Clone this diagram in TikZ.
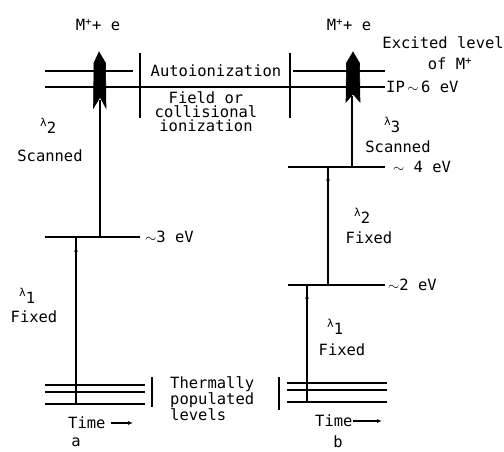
\documentclass[tikz,border=0pt]{standalone}
\usepackage{fontspec}
\setmonofont{DejaVu Sans Mono}
\usetikzlibrary{arrows.meta}
\newcommand{\lamb}[1]{{\fontsize{11}{11}\selectfont λ}\raisebox{-0.42em}{#1}}
\begin{document}
\begin{tikzpicture}[x=1pt,y=-1pt,
  lvl/.style={line width=1.2pt},
  trans/.style={line width=1.1pt},
  bar/.style={line width=1.1pt},
  lab/.style={font=\ttfamily\fontsize{15.5}{14}\selectfont, inner sep=0pt},
  headup/.style={line width=1.1pt,-{Stealth[length=6pt,width=3.5pt]}},
  timearr/.style={line width=1.1pt,-{Latex[length=5pt,width=4pt]}},
  big/.style={fill=black,draw=black,line width=0.6pt}]
\useasboundingbox (0,0) rectangle (504,451);
% ---- coordinates (levels) ----
\coordinate (aTopL) at (45,71);   \coordinate (aTopR) at (133,71);
\coordinate (ipL) at (45,87);     \coordinate (ipR) at (385,87);
\coordinate (bTopL) at (293,71);  \coordinate (bTopR) at (385,71);
\coordinate (a3L) at (45,237);    \coordinate (a3R) at (140,237);
\coordinate (aT1L) at (45,385);   \coordinate (aT1R) at (145,385);
\coordinate (aT2L) at (45,392);   \coordinate (aT2R) at (145,392);
\coordinate (aT3L) at (45,404);   \coordinate (aT3R) at (145,404);
\coordinate (b4L) at (288,167);   \coordinate (b4R) at (385,167);
\coordinate (b2L) at (288,285);   \coordinate (b2R) at (385,285);
\coordinate (bT1L) at (287,383);  \coordinate (bT1R) at (387,383);
\coordinate (bT2L) at (287,390);  \coordinate (bT2R) at (387,390);
\coordinate (bT3L) at (287,402);  \coordinate (bT3R) at (387,402);
% bars
\coordinate (barAt) at (140,53); \coordinate (barAb) at (140,118);
\coordinate (barBt) at (290,53); \coordinate (barBb) at (290,118);
\coordinate (barTAt) at (152,377); \coordinate (barTAb) at (152,407);
\coordinate (barTBt) at (279,377); \coordinate (barTBb) at (279,410);
% transition points
\coordinate (a1bot) at (76,404); \coordinate (a1top) at (76,237); \coordinate (a1head) at (76,246);
\coordinate (a2bot) at (100,237); \coordinate (a2top) at (100,100);
\coordinate (b1bot) at (307,402); \coordinate (b1top) at (307,285); \coordinate (b1head) at (307,293);
\coordinate (b2bot) at (328,285); \coordinate (b2top) at (328,167); \coordinate (b2head) at (328,175);
\coordinate (b3bot) at (352,167); \coordinate (b3top) at (352,96);
% ---- levels ----
\draw[lvl] (aTopL) -- (aTopR);
\draw[lvl] (ipL) -- (ipR);
\draw[lvl] (bTopL) -- (bTopR);
\draw[lvl] (a3L) -- (a3R);
\draw[lvl] (aT1L) -- (aT1R);
\draw[lvl] (aT2L) -- (aT2R);
\draw[lvl] (aT3L) -- (aT3R);
\draw[lvl] (b4L) -- (b4R);
\draw[lvl] (b2L) -- (b2R);
\draw[lvl] (bT1L) -- (bT1R);
\draw[lvl] (bT2L) -- (bT2R);
\draw[lvl] (bT3L) -- (bT3R);
\draw[bar] (barAt) -- (barAb);
\draw[bar] (barBt) -- (barBb);
\draw[bar] (barTAt) -- (barTAb);
\draw[bar] (barTBt) -- (barTBb);
% ---- transitions ----
\draw[trans] (a1bot) -- (a1top);
\draw[headup] (a1bot) -- (a1head);
\draw[trans] (a2bot) -- (a2top);
\draw[trans] (b1bot) -- (b1top);
\draw[headup] (b1bot) -- (b1head);
\draw[trans] (b2bot) -- (b2top);
\draw[headup] (b2bot) -- (b2head);
\draw[trans] (b3bot) -- (b3top);
% ---- thick ionization arrows ----
\draw[big] (99,52) -- (105.5,63) -- (106,108) -- (100,97) -- (93.5,108) -- (94,63) -- cycle;
\draw[big] (353,52) -- (359.5,63) -- (360,102) -- (353,94) -- (346,102) -- (346.5,63) -- cycle;
% ---- labels ----
\node[lab] (mA) at (98,25) {M\textsuperscript{+}+ e};
\node[lab] (mB) at (349,25) {M\textsuperscript{+}+ e};
\node[lab] (auto) at (216,71) {Autoionization};
\node[lab,align=center] (field) at (206,112) {Field or\\collisional\\ionization};
\node[lab,anchor=west] (l2a) at (40,126) {\lamb{2}};
\node[lab] (scA) at (50,156) {Scanned};
\node[lab,anchor=west] (e3) at (145,237) {$\sim$3 eV};
\node[lab,anchor=west] (l1a) at (19,296) {\lamb{1}};
\node[lab] (fxA) at (34,317) {Fixed};
\node[lab,anchor=west,align=left] (therm) at (170,399) {Thermally\\populated\\levels};
\node[lab,anchor=west] (timeA) at (68,423) {Time};
\coordinate (tAs) at (111,423); \coordinate (tAe) at (133,423);
\draw[timearr] (tAs) -- (tAe);
\node[lab] (capA) at (76,442) {a};
\node[lab,anchor=east] (exc) at (504,43) {Excited level};
\node[lab] (ofm) at (450,64) {of M\textsuperscript{+}};
\node[lab,anchor=west] (ip) at (386,87) {IP\,$\sim$\,6 eV};
\node[lab,anchor=west] (l3b) at (384,125) {\lamb{3}};
\node[lab] (scB) at (398,147) {Scanned};
\node[lab,anchor=west] (e4) at (393,167) {$\sim$ 4 eV};
\node[lab,anchor=west] (l2b) at (354,216) {\lamb{2}};
\node[lab] (fxB) at (369,238) {Fixed};
\node[lab,anchor=west] (e2) at (388,285) {$\sim$2 eV};
\node[lab,anchor=west] (l1b) at (327,327) {\lamb{1}};
\node[lab] (fxB1) at (342,350) {Fixed};
\node[lab,anchor=west] (timeB) at (315,421) {Time};
\coordinate (tBs) at (353,421); \coordinate (tBe) at (382,421);
\draw[timearr] (tBs) -- (tBe);
\node[lab] (capB) at (338,442) {b};
\end{tikzpicture}
\end{document}
